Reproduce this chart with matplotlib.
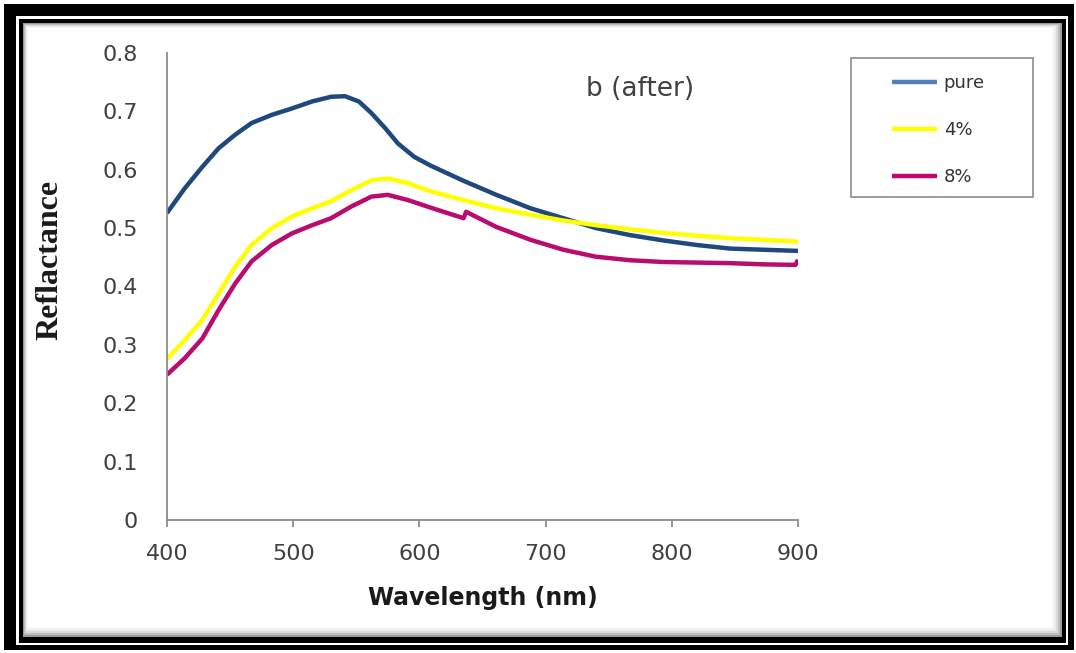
import numpy as np
import matplotlib
matplotlib.use('Agg')
import matplotlib.pyplot as plt
from matplotlib.patches import Rectangle

# Data
wl_p = [400, 414, 428, 441, 454, 467, 483, 499, 515, 530, 541, 552, 562, 573, 583,
        596, 609, 625, 635, 661, 688, 714, 740, 767, 793, 820, 846, 872, 900]
pure = [0.526, 0.568, 0.605, 0.637, 0.660, 0.680, 0.694, 0.705, 0.717, 0.725, 0.726,
        0.717, 0.697, 0.671, 0.645, 0.622, 0.607, 0.591, 0.581, 0.557, 0.534, 0.517,
        0.500, 0.488, 0.479, 0.471, 0.465, 0.463, 0.461]

wl_4 = [400, 414, 428, 441, 454, 467, 483, 499, 515, 530, 546, 562, 575, 591, 609,
        635, 661, 688, 714, 740, 767, 793, 820, 846, 872, 900]
p4 = [0.276, 0.308, 0.343, 0.388, 0.434, 0.471, 0.500, 0.520, 0.534, 0.546, 0.565,
      0.582, 0.585, 0.577, 0.563, 0.548, 0.534, 0.523, 0.513, 0.505, 0.498, 0.492,
      0.487, 0.483, 0.480, 0.477]

wl_8 = [400, 414, 428, 441, 454, 467, 483, 499, 515, 530, 546, 562, 575, 591, 609,
        635, 637, 661, 688, 714, 740, 767, 793, 820, 846, 872, 898, 900]
p8 = [0.249, 0.277, 0.311, 0.360, 0.405, 0.443, 0.471, 0.491, 0.505, 0.517, 0.537,
      0.554, 0.557, 0.548, 0.535, 0.517, 0.528, 0.502, 0.480, 0.463, 0.451, 0.445,
      0.442, 0.441, 0.440, 0.438, 0.437, 0.446]

labels = ['pure', '4%', '8%']
colors = ['#1F497D', '#FFFF00', '#B80C6E']
legend_colors = ['#4F81BD', '#FFFF00', '#BE0A6E']

W, H = 1076, 653
fig = plt.figure(figsize=(W / 100, H / 100), dpi=100)

def frect(x0, y0, x1, y1, zorder=-5, **kw):
    # rectangle in pixel coords (y from top)
    r = Rectangle((x0 / W, 1 - y1 / H), (x1 - x0) / W, (y1 - y0) / H,
                  transform=fig.transFigure, zorder=zorder, **kw)
    fig.patches.append(r)

# picture frame
frect(4, 4, 1074, 650, facecolor='black', edgecolor='none')
frect(16, 16, 1068, 645, facecolor='white', edgecolor='none')
frect(19, 19, 1066, 643, facecolor='black', edgecolor='none')
for i, g in enumerate(['#9a9a9a', '#bdbdbd', '#d8d8d8', '#ececec', '#f7f7f7']):
    frect(23 + i, 23 + i, 1062 - 2 * i, 637 - 2 * i, facecolor=g, edgecolor='none')
frect(28, 28, 1052, 627, facecolor='white', edgecolor='none')

# legend box
frect(851, 58, 1033, 197, zorder=-4, facecolor='white', edgecolor='#8c8c8c', lw=1.2)

ax = fig.add_axes([167 / W, 1 - 520 / H, (798 - 167) / W, (520 - 53) / H])
ax.patch.set_alpha(0)

kw = dict(lw=3.2, solid_capstyle='butt', solid_joinstyle='round')
ax.plot(wl_p, pure, color=colors[0], label=labels[0], **kw)
ax.plot(wl_4, p4, color=colors[1], label=labels[1], **kw)
ax.plot(wl_8, p8, color=colors[2], label=labels[2], **kw)

ax.set_xlim(400, 900)
ax.set_ylim(0, 0.8)
ax.set_xticks([400, 500, 600, 700, 800, 900])
ax.set_yticks([0, 0.1, 0.2, 0.3, 0.4, 0.5, 0.6, 0.7, 0.8])
ax.set_yticklabels(['0', '0.1', '0.2', '0.3', '0.4', '0.5', '0.6', '0.7', '0.8'])

for s in ['top', 'right']:
    ax.spines[s].set_visible(False)
for s in ['left', 'bottom']:
    ax.spines[s].set_color('#8c8c8c')
    ax.spines[s].set_linewidth(1.3)
ax.tick_params(axis='x', direction='out', length=5, width=1.3, color='#8c8c8c',
               labelsize=16, labelcolor='#404040', pad=12)
ax.tick_params(axis='y', length=0, labelsize=16, labelcolor='#404040', pad=21)

ax.set_xlabel('Wavelength (nm)', fontsize=17, fontweight='bold', color='#1a1a1a', labelpad=16)
fig.text(50 / W, 1 - 260 / H, 'Reflactance', rotation=90, ha='center', va='center',
         fontsize=23, fontweight='bold', family='Liberation Serif', color='#1a1a1a')
fig.text(640 / W, 1 - 89 / H, 'b (after)', ha='center', va='center', fontsize=19,
         color='#404040')

leg = ax.legend(loc='upper left', bbox_to_anchor=(876 / W, 1 - 58 / H),
                bbox_transform=fig.transFigure, frameon=False, fontsize=13,
                handlelength=2.5, handletextpad=0.35, labelspacing=1.6)
for line, c in zip(leg.get_lines(), legend_colors):
    line.set_color(c)
    line.set_linewidth(3.2)
for t in leg.get_texts():
    t.set_color('#333333')

fig.savefig('out.png', dpi=100)
